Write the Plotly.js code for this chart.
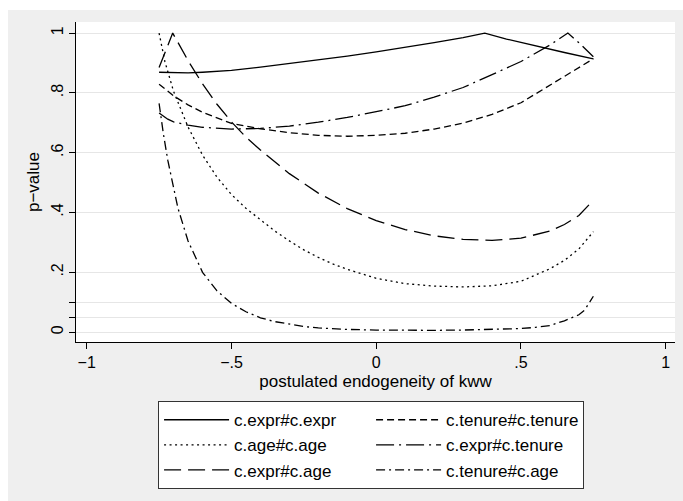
<!DOCTYPE html>
<html>
<head>
<meta charset="utf-8">
<script src="https://cdn.plot.ly/plotly-3.0.1.min.js"></script>
<style>
  html, body { margin: 0; padding: 0; background: #ffffff; }
  #chart { position: absolute; left: 8px; top: 10px; width: 675px; height: 491px; }
</style>
</head>
<body>
<div id="chart"></div>
<script>
// p-values of each interaction term against the postulated endogeneity of kww

const xExprExpr = [-0.75, -0.7, -0.65, -0.6, -0.5, -0.4, -0.3, -0.2, -0.1, 0, 0.1, 0.2, 0.3, 0.375, 0.45, 0.55, 0.65, 0.75];
const pExprExpr = [0.869, 0.867, 0.867, 0.869, 0.875, 0.886, 0.898, 0.910, 0.923, 0.937, 0.952, 0.968, 0.985, 1.0, 0.980, 0.957, 0.935, 0.914];

const xTenureTenure = [-0.75, -0.7, -0.65, -0.6, -0.5, -0.4, -0.3, -0.2, -0.1, 0, 0.1, 0.2, 0.3, 0.4, 0.5, 0.6, 0.65, 0.7, 0.75];
const pTenureTenure = [0.829, 0.790, 0.760, 0.735, 0.698, 0.680, 0.667, 0.658, 0.655, 0.658, 0.665, 0.679, 0.699, 0.728, 0.767, 0.826, 0.855, 0.883, 0.914];

const xAgeAge = [-0.75, -0.73, -0.7, -0.65, -0.6, -0.55, -0.5, -0.45, -0.4, -0.35, -0.3, -0.25, -0.2, -0.15, -0.1, 0, 0.1, 0.2, 0.3, 0.4, 0.5, 0.6, 0.65, 0.7, 0.75];
const pAgeAge = [1.0, 0.905, 0.805, 0.686, 0.592, 0.518, 0.460, 0.414, 0.376, 0.338, 0.305, 0.275, 0.250, 0.228, 0.210, 0.180, 0.162, 0.154, 0.151, 0.155, 0.170, 0.212, 0.240, 0.278, 0.336];

const xExprTenure = [-0.75, -0.72, -0.7, -0.65, -0.6, -0.5, -0.4, -0.3, -0.2, -0.1, 0, 0.1, 0.2, 0.3, 0.4, 0.5, 0.6, 0.662, 0.7, 0.75];
const pExprTenure = [0.733, 0.712, 0.703, 0.692, 0.685, 0.679, 0.681, 0.689, 0.702, 0.718, 0.737, 0.757, 0.786, 0.818, 0.861, 0.905, 0.960, 1.0, 0.968, 0.921];

const xExprAge = [-0.75, -0.703, -0.65, -0.6, -0.55, -0.5, -0.45, -0.4, -0.3, -0.2, -0.1, 0, 0.1, 0.2, 0.3, 0.4, 0.5, 0.6, 0.65, 0.7, 0.75];
const pExprAge = [0.885, 1.0, 0.908, 0.830, 0.762, 0.703, 0.652, 0.609, 0.530, 0.465, 0.413, 0.373, 0.343, 0.322, 0.310, 0.307, 0.314, 0.338, 0.360, 0.390, 0.441];

const xTenureAge = [-0.75, -0.745, -0.735, -0.72, -0.7, -0.685, -0.65, -0.6, -0.55, -0.5, -0.45, -0.4, -0.35, -0.3, -0.25, -0.2, -0.1, 0, 0.1, 0.2, 0.3, 0.4, 0.5, 0.55, 0.6, 0.65, 0.7, 0.72, 0.75];
const pTenureAge = [0.765, 0.728, 0.662, 0.575, 0.482, 0.415, 0.305, 0.200, 0.138, 0.096, 0.068, 0.048, 0.035, 0.026, 0.019, 0.014, 0.009, 0.007, 0.006, 0.006, 0.007, 0.009, 0.012, 0.016, 0.022, 0.038, 0.058, 0.074, 0.120];

const seriesNames = ['c.expr#c.expr', 'c.tenure#c.tenure', 'c.age#c.age', 'c.expr#c.tenure', 'c.expr#c.age', 'c.tenure#c.age'];

const xTickVals = [-1, -0.5, 0, 0.5, 1];
const xTickText = ['\u22121', '\u2212.5', '0', '.5', '1'];
const yTickVals = [0, 0.05, 0.1, 0.2, 0.4, 0.6, 0.8, 1];
const yTickText = ['0', '', '', '.2', '.4', '.6', '.8', '1'];

// Stata-like line patterns
const patterns = {
  solid: 'solid',
  dash: '7px,4px',
  dot: '2px,3.5px',
  longdash_dot: '18px,5px,2px,5px',
  longdash: '17px,7px',
  dash_dot: '9px,4px,2px,4px'
};

function line(x, y, name, dash) {
  return {
    x: x, y: y, name: name, type: 'scatter', mode: 'lines',
    line: { color: '#000000', width: 1.3, dash: dash },
    hoverinfo: 'skip'
  };
}

// Ordered so the two-column horizontal legend reads column by column
const traces = [
  line(xExprExpr, pExprExpr, seriesNames[0], patterns.solid),
  line(xTenureTenure, pTenureTenure, seriesNames[1], patterns.dash),
  line(xAgeAge, pAgeAge, seriesNames[2], patterns.dot),
  line(xExprTenure, pExprTenure, seriesNames[3], patterns.longdash_dot),
  line(xExprAge, pExprAge, seriesNames[4], patterns.longdash),
  line(xTenureAge, pTenureAge, seriesNames[5], patterns.dash_dot)
];

const fontFamily = 'Liberation Sans, Arial, Helvetica, sans-serif';

const layout = {
  width: 675,
  height: 491,
  paper_bgcolor: '#efefef',
  plot_bgcolor: '#ffffff',
  margin: { l: 68, r: 8, t: 12, b: 159 },
  font: { family: fontFamily, color: '#000000', size: 16 },
  showlegend: true,
  xaxis: {
    range: [-1.037, 1.032],
    tickmode: 'array', tickvals: xTickVals, ticktext: xTickText,
    ticks: 'outside', ticklen: 6, tickwidth: 1, tickcolor: '#000000',
    tickfont: { size: 16 },
    showline: true, linecolor: '#000000', linewidth: 1,
    showgrid: false, zeroline: false,
    title: { text: 'postulated endogeneity of kww', font: { size: 17 }, standoff: 4 }
  },
  yaxis: {
    range: [-0.033, 1.037],
    tickmode: 'array', tickvals: yTickVals, ticktext: yTickText,
    tickangle: -90,
    ticks: 'outside', ticklen: 6, tickwidth: 1, tickcolor: '#000000',
    tickfont: { size: 16 },
    showline: true, linecolor: '#000000', linewidth: 1,
    showgrid: true, gridcolor: '#e6e6e6', gridwidth: 1, zeroline: false,
    title: { text: 'p\u2212value', font: { size: 17 }, standoff: 4 }
  },
  legend: {
    orientation: 'h',
    x: 0.137, xanchor: 'left',
    y: -0.185, yanchor: 'top',
    bgcolor: '#ffffff', bordercolor: '#333333', borderwidth: 1,
    itemwidth: 65,
    entrywidth: 132, entrywidthmode: 'pixels',
    traceorder: 'normal',
    font: { size: 17 }
  }
};

Plotly.newPlot('chart', traces, layout, { displayModeBar: false, staticPlot: true });
</script>
</body>
</html>
